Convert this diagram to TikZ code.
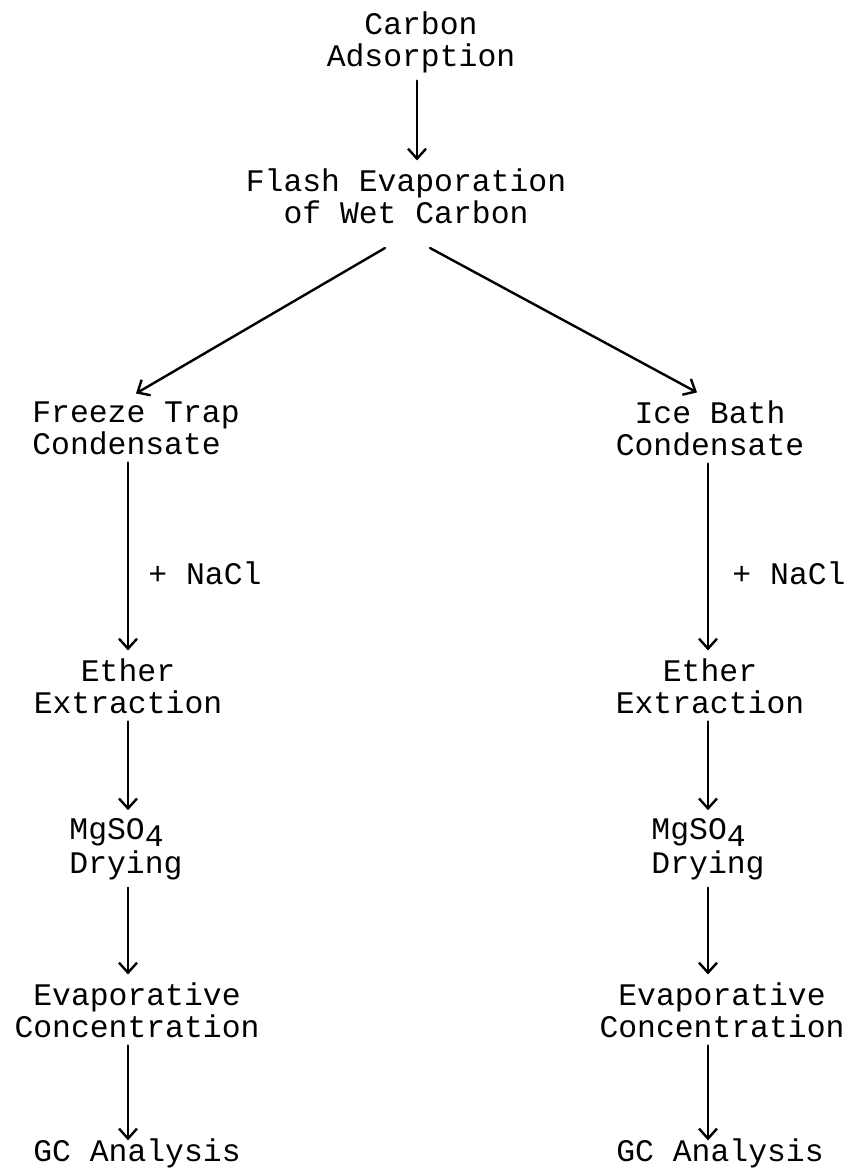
\documentclass[tikz,border=0pt]{standalone}
\usepackage{fontspec}
\setmainfont{Liberation Mono}
\usetikzlibrary{arrows.meta}

\begin{document}
\begin{tikzpicture}[line cap=round,line join=round,>={Straight Barb[length=5pt,width=9pt]},x=0.5pt,y=-0.5pt, line width=1.2pt,
  stage/.style={inner sep=4pt, outer sep=0pt, align=center, font=\fontsize{15.7}{16}\selectfont},
  stageL/.style={stage, align=left}]
                    \useasboundingbox (0,0) rectangle (852,1172);

                    \node[stage] (adsorb) at (421,42) {Carbon\\Adsorption};
                    \node[stage] (flash) at (406,196) {Flash Evaporation\\of Wet Carbon};

                    \node[stageL] (freeze) at (136,428) {Freeze Trap\\Condensate};
                    \node[stage] (ice) at (710,428) {Ice Bath\\Condensate};

                    \node[stage] (naclL) at (205,573) {+ NaCl};
                    \node[stage] (naclR) at (789,573) {+ NaCl};

                    \node[stage] (etherL) at (128,686) {Ether\\Extraction};
                    \node[stage] (etherR) at (710,686) {Ether\\Extraction};

                    \node[stageL] (dryL) at (126,849) {MgSO\raisebox{-3.5pt}{4}\\[1pt]Drying};
                    \node[stageL] (dryR) at (708,849) {MgSO\raisebox{-3.5pt}{4}\\[1pt]Drying};

                    \node[stage] (evapL) at (137,1010) {Evaporative\\Concentration};
                    \node[stage] (evapR) at (722,1010) {Evaporative\\Concentration};

                    \node[stage] (gcL) at (137,1153) {GC Analysis};
                    \node[stage] (gcR) at (720,1153) {GC Analysis};

                    \coordinate (mcol) at (417,0);
                    \coordinate (lcol) at (128,0);
                    \coordinate (rcol) at (708,0);
                    \coordinate (splitL) at (385,248);
                    \coordinate (splitR) at (430,248);

                    \draw [->] (adsorb.south -| mcol) -- (flash.north -| mcol);
                    \draw [->] (splitL) -- (freeze.north);
                    \draw [->] (splitR) -- ([xshift=-6.5pt]ice.north);

                    \draw [->] (freeze.south -| lcol) -- (etherL.north -| lcol);
                    \draw [->] (etherL.south -| lcol) -- (dryL.north -| lcol);
                    \draw [->] (dryL.south -| lcol) -- (evapL.north -| lcol);
                    \draw [->, shorten >=-5pt] (evapL.south -| lcol) -- (gcL.north -| lcol);

                    \draw [->] (ice.south -| rcol) -- (etherR.north -| rcol);
                    \draw [->] (etherR.south -| rcol) -- (dryR.north -| rcol);
                    \draw [->] (dryR.south -| rcol) -- (evapR.north -| rcol);
                    \draw [->, shorten >=-5pt] (evapR.south -| rcol) -- (gcR.north -| rcol);
                \end{tikzpicture}
\end{document}
